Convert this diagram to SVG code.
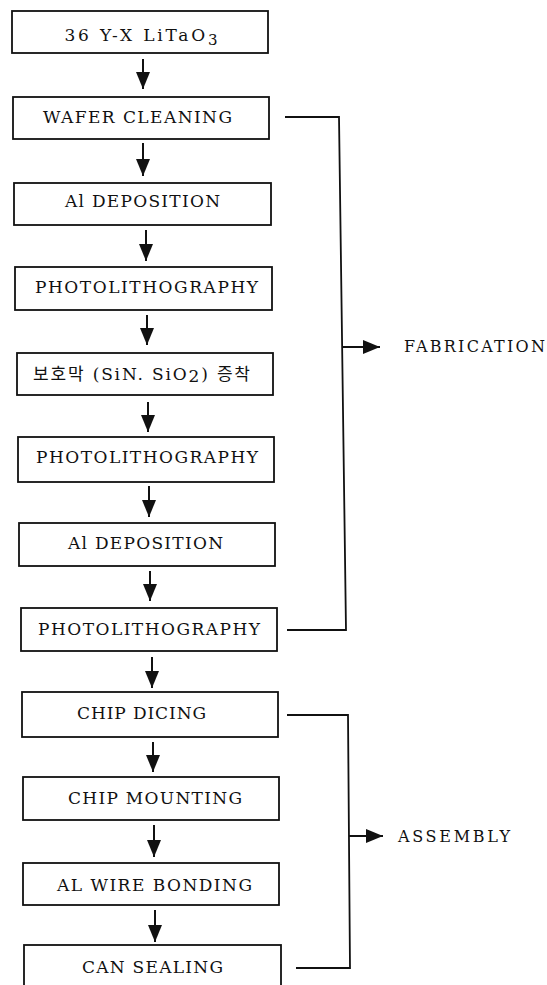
<svg xmlns="http://www.w3.org/2000/svg" width="547" height="985" viewBox="0 0 547 985">
<style>
.box{fill:#fff;stroke:#111;stroke-width:1.8}
.t{font-family:"DejaVu Serif","Noto Sans CJK KR",serif;font-size:17px;fill:#111;text-anchor:middle}
.lbl{font-family:"DejaVu Serif",serif;font-size:16px;fill:#111}
.c{fill:none;stroke:#111;stroke-width:1.8}
.a{stroke:#111;stroke-width:2}
</style>
<defs>
<marker id="ah" markerUnits="userSpaceOnUse" markerWidth="17" markerHeight="14" refX="17" refY="7" orient="auto">
<path d="M0,0 L17,7 L0,14 z" fill="#111"/>
</marker>
</defs>
<rect width="547" height="985" fill="#fff"/>
<g id="n1"><rect class="box" x="12" y="11" width="256" height="42"/><text class="t" x="141" y="41" textLength="153" lengthAdjust="spacing">36 Y-X LiTaO<tspan font-size="15" dy="4">3</tspan></text></g>
<g id="n2"><rect class="box" x="13" y="97" width="256" height="42"/><text class="t" x="137.5" y="123" textLength="189" lengthAdjust="spacing">WAFER CLEANING</text></g>
<g id="n3"><rect class="box" x="14" y="183" width="257" height="42"/><text class="t" x="142.5" y="207" textLength="155" lengthAdjust="spacing">Al DEPOSITION</text></g>
<g id="n4"><rect class="box" x="15" y="267" width="257" height="43"/><text class="t" x="146.5" y="293" textLength="223" lengthAdjust="spacing">PHOTOLITHOGRAPHY</text></g>
<g id="n5"><rect class="box" x="17" y="353" width="256" height="42"/><text class="t" x="141.5" y="380" textLength="217" lengthAdjust="spacing">보호막 (SiN. SiO<tspan dy="2">2</tspan><tspan dy="-2">) 증착</tspan></text></g>
<g id="n6"><rect class="box" x="18" y="437" width="256" height="45"/><text class="t" x="147" y="463" textLength="222" lengthAdjust="spacing">PHOTOLITHOGRAPHY</text></g>
<g id="n7"><rect class="box" x="19" y="523" width="256" height="43"/><text class="t" x="145.5" y="549" textLength="155" lengthAdjust="spacing">Al DEPOSITION</text></g>
<g id="n8"><rect class="box" x="21" y="608" width="256" height="43"/><text class="t" x="149" y="635" textLength="222" lengthAdjust="spacing">PHOTOLITHOGRAPHY</text></g>
<g id="n9"><rect class="box" x="22" y="692" width="256" height="45"/><text class="t" x="141.5" y="719" textLength="129" lengthAdjust="spacing">CHIP DICING</text></g>
<g id="n10"><rect class="box" x="23" y="777" width="256" height="43"/><text class="t" x="155" y="804" textLength="174" lengthAdjust="spacing">CHIP MOUNTING</text></g>
<g id="n11"><rect class="box" x="23" y="863" width="256" height="42"/><text class="t" x="154.5" y="891" textLength="195" lengthAdjust="spacing">AL WIRE BONDING</text></g>
<g id="n12"><rect class="box" x="24" y="945" width="257" height="50"/><text class="t" x="152.5" y="973" textLength="141" lengthAdjust="spacing">CAN SEALING</text></g>
<g id="fabrication"><text class="lbl" x="404" y="352" textLength="141" lengthAdjust="spacing">FABRICATION</text></g>
<g id="assembly"><text class="lbl" x="398" y="842" textLength="112" lengthAdjust="spacing">ASSEMBLY</text></g>
<g id="connectors">
<line class="a" x1="143" y1="59" x2="143" y2="89" marker-end="url(#ah)"/>
<line class="a" x1="143" y1="143" x2="143" y2="176" marker-end="url(#ah)"/>
<line class="a" x1="146" y1="230" x2="146" y2="261" marker-end="url(#ah)"/>
<line class="a" x1="147" y1="315" x2="147" y2="345" marker-end="url(#ah)"/>
<line class="a" x1="148" y1="402" x2="148" y2="432" marker-end="url(#ah)"/>
<line class="a" x1="149" y1="486" x2="149" y2="517" marker-end="url(#ah)"/>
<line class="a" x1="150" y1="571" x2="150" y2="601" marker-end="url(#ah)"/>
<line class="a" x1="152" y1="657" x2="152" y2="688" marker-end="url(#ah)"/>
<line class="a" x1="153" y1="742" x2="153" y2="772" marker-end="url(#ah)"/>
<line class="a" x1="154" y1="825" x2="154" y2="857" marker-end="url(#ah)"/>
<line class="a" x1="155" y1="910" x2="155" y2="942" marker-end="url(#ah)"/>
<path class="c" d="M285,117 H339 L346,630 H287"/>
<line class="a" x1="343" y1="347" x2="380" y2="347" marker-end="url(#ah)"/>
<path class="c" d="M287,715 H348 L350,968 H296"/>
<line class="a" x1="349" y1="836" x2="383" y2="836" marker-end="url(#ah)"/>
</g>
</svg>
